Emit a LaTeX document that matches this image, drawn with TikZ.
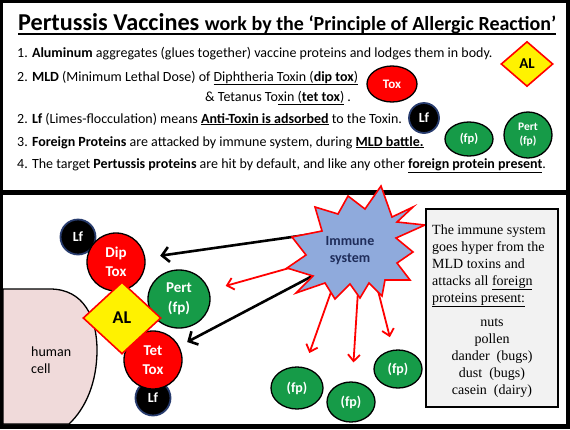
\documentclass[tikz,border=0pt]{standalone}
\usepackage{fontspec}
\setmainfont{Carlito}
\newfontfamily\timesfont{Liberation Serif}
\usetikzlibrary{arrows.meta,shapes.geometric}
\definecolor{fpgreen}{RGB}{22,155,72}
\definecolor{burstblue}{RGB}{143,170,220}
\definecolor{navytext}{RGB}{31,45,90}
\definecolor{cellpink}{RGB}{240,218,218}
\definecolor{boxgray}{RGB}{242,242,242}
\definecolor{lfglow}{RGB}{40,60,110}
\tikzset{
  body/.style={anchor=base west, inner sep=0pt, font=\fontsize{14}{17}\selectfont},
  toxnode/.style={circle, fill=red, draw=black, line width=1.3pt, text=white, inner sep=0pt, align=center},
  fpnode/.style={ellipse, fill=fpgreen, draw=black, line width=1.3pt, text=white, inner sep=0pt, align=center},
  lfnode/.style={circle, fill=black, draw=lfglow, line width=1.8pt, text=white, inner sep=0pt},
  alnode/.style={diamond, fill=yellow, draw=red, line width=1.6pt, inner sep=0pt, text=black},
  blackarrow/.style={line width=2.6pt, black, -{Straight Barb[length=7pt,width=15pt]}},
  redarrow/.style={line width=1.8pt, red, -{Straight Barb[length=6.5pt,width=12pt]}},
  notetext/.style={inner sep=0pt, font=\timesfont\fontsize{14}{17}\selectfont},
}
\begin{document}
\begin{tikzpicture}[x=1pt,y=-1pt]
\useasboundingbox (0,0) rectangle (570,429);
% frame and panels
\fill[black] (0,0) rectangle (570,429);
\fill[white] (3,3) rectangle (566,190);
\fill[white] (3,195) rectangle (566,424);

% ---------- top panel ----------
\node[anchor=base west, inner sep=0pt] (title) at (18,30)
  {\resizebox{538pt}{!}{\bfseries\fontsize{23}{26}\selectfont Pertussis Vaccines \fontsize{19}{22}\selectfont work by the ‘Principle of Allergic Reaction’}};
\draw[line width=1.8pt] ([yshift=-4pt]title.base west) -- ([yshift=-4pt]title.base east);

\node[body] (l1) at (17,57) {1. \textbf{Aluminum} aggregates (glues together) vaccine proteins and lodges them in body.};
\node[body] (l2) at (17,81) {2. \textbf{MLD} (Minimum Lethal Dose) of \underline{Diphtheria Toxin (\textbf{dip tox})}};
\node[body] (l2b) at (205,101) {\& Tetanus To\underline{xin (\textbf{tet tox})} .};
\node[body] (l3) at (17,123) {2. \textbf{Lf} (Limes-flocculation) means \underline{\textbf{Anti-Toxin is adsorbed}} to the Toxin.};
\node[body] (l4) at (17,146) {3. \textbf{Foreign Proteins} are attacked by immune system, during \underline{\textbf{MLD battle.}}};
\node[body] (l5) at (17,168) {4. The target \textbf{Pertussis proteins} are hit by default, and like any other \underline{\textbf{foreign protein present}}.};

\node[alnode, minimum width=52pt, minimum height=45pt, font=\bfseries\fontsize{15}{16}\selectfont] (al1) at (527,64) {AL};
\node[ellipse, fill=red, draw=black, line width=1.3pt, text=white, inner sep=0pt, minimum width=50pt, minimum height=36pt, font=\bfseries\fontsize{13}{14}\selectfont] (tox1) at (392,84) {Tox};
\node[lfnode, minimum size=30pt, font=\bfseries\fontsize{14}{15}\selectfont] (lf1) at (424,118) {Lf};
\node[fpnode, minimum width=48pt, minimum height=34pt, font=\bfseries\fontsize{12.5}{14}\selectfont] (fp1) at (469,139) {(fp)};
\node[fpnode, minimum width=48pt, minimum height=46pt, font=\bfseries\fontsize{11.5}{14}\selectfont] (pert1) at (528,135) {Pert\\(fp)};

% ---------- bottom panel ----------
\draw[fill=cellpink, line width=1.3pt] (3,289) -- (50,289) .. controls (84,289) and (97,318) .. (97,350)
  .. controls (97,382) and (86,408) .. (69,424) -- (3,424) -- cycle;
\node[anchor=west, align=left, inner sep=0pt, font=\fontsize{14}{17}\selectfont] (cell) at (31,360) {human\\cell};

\node[lfnode, minimum size=35pt, font=\bfseries\fontsize{14}{15}\selectfont] (lfa) at (78,237) {Lf};
\node[lfnode, minimum size=35pt, font=\bfseries\fontsize{14}{15}\selectfont] (lfb) at (153,398) {Lf};
\node[toxnode, minimum size=58pt, font=\bfseries\fontsize{15}{19}\selectfont] (dip) at (116,262) {Dip\\Tox};
\node[toxnode, minimum size=58pt, font=\bfseries\fontsize{15}{19}\selectfont] (tet) at (153,360) {Tet\\Tox};
\node[fpnode, minimum width=62pt, minimum height=58pt, font=\bfseries\fontsize{15}{20}\selectfont] (pert) at (179,299) {Pert\\(fp)};
\node[alnode, minimum width=78pt, minimum height=72pt, font=\bfseries\fontsize{18}{20}\selectfont] (al) at (122,318) {AL};

\node[fpnode, minimum width=52pt, minimum height=42pt, font=\bfseries\fontsize{14}{15}\selectfont] (fpa) at (297,388) {(fp)};
\node[fpnode, minimum width=48pt, minimum height=40pt, font=\bfseries\fontsize{14}{15}\selectfont] (fpb) at (351,402) {(fp)};
\node[fpnode, minimum width=48pt, minimum height=38pt, font=\bfseries\fontsize{14}{15}\selectfont] (fpc) at (398,369) {(fp)};

% arrow start points inside the burst
\coordinate (s1) at (320,233);
\coordinate (s2) at (320,272);
\coordinate (s3) at (325,258);
\coordinate (s4) at (337,275);
\coordinate (s5) at (359,275);
\coordinate (s6) at (374,275);

\draw[blackarrow, shorten >=15pt] (s1) -- (dip);
\draw[blackarrow, shorten >=9pt] (s2) -- (tet);
\draw[redarrow, shorten >=17pt] (s3) -- (pert);
\draw[redarrow, shorten >=15pt] (s4) -- (fpa);
\draw[redarrow, shorten >=19pt] (s5) -- (fpb);
\draw[redarrow, shorten >=13pt] (s6) -- (fpc);

% immune system burst
\draw[fill=burstblue, draw=red, line width=1.6pt, line join=miter]
  (381,186) -- (392,217) -- (413,207) -- (397,222) -- (425,225) -- (396,238)
  -- (413,252) -- (397,263) -- (410,280) -- (385,280) -- (382,296) -- (369,283)
  -- (360,298) -- (350,284) -- (335,299) -- (325,283) -- (296,293) -- (313,276)
  -- (287,268) -- (306,255) -- (292,237) -- (322,231) -- (315,207) -- (338,214)
  -- (348,196) -- (365,209) -- cycle;
\node[align=center, inner sep=0pt, text=navytext, font=\bfseries\fontsize{14}{17}\selectfont] (immune) at (350,251) {Immune\\system};

% note box
\node[draw=black, line width=1.5pt, fill=boxgray, minimum width=132pt, minimum height=198pt, inner sep=0pt] (note) at (492,308) {};
\node[notetext, anchor=base west] (n1) at (432,234) {The immune system};
\node[notetext, anchor=base west] (n2) at (432,251) {goes hyper from the};
\node[notetext, anchor=base west] (n3) at (432,268) {MLD toxins and};
\node[notetext, anchor=base west] (n4) at (432,285) {attacks all \underline{foreign}};
\node[notetext, anchor=base west] (n5) at (432,302) {\underline{proteins present:}};
\node[notetext, anchor=base] (m1) at (492,326) {nuts};
\node[notetext, anchor=base] (m2) at (492,343) {pollen};
\node[notetext, anchor=base] (m3) at (492,360) {dander\ \ (bugs)};
\node[notetext, anchor=base] (m4) at (492,377) {dust\ \ (bugs)};
\node[notetext, anchor=base] (m5) at (492,394) {casein\ \ (dairy)};
\end{tikzpicture}
\end{document}
